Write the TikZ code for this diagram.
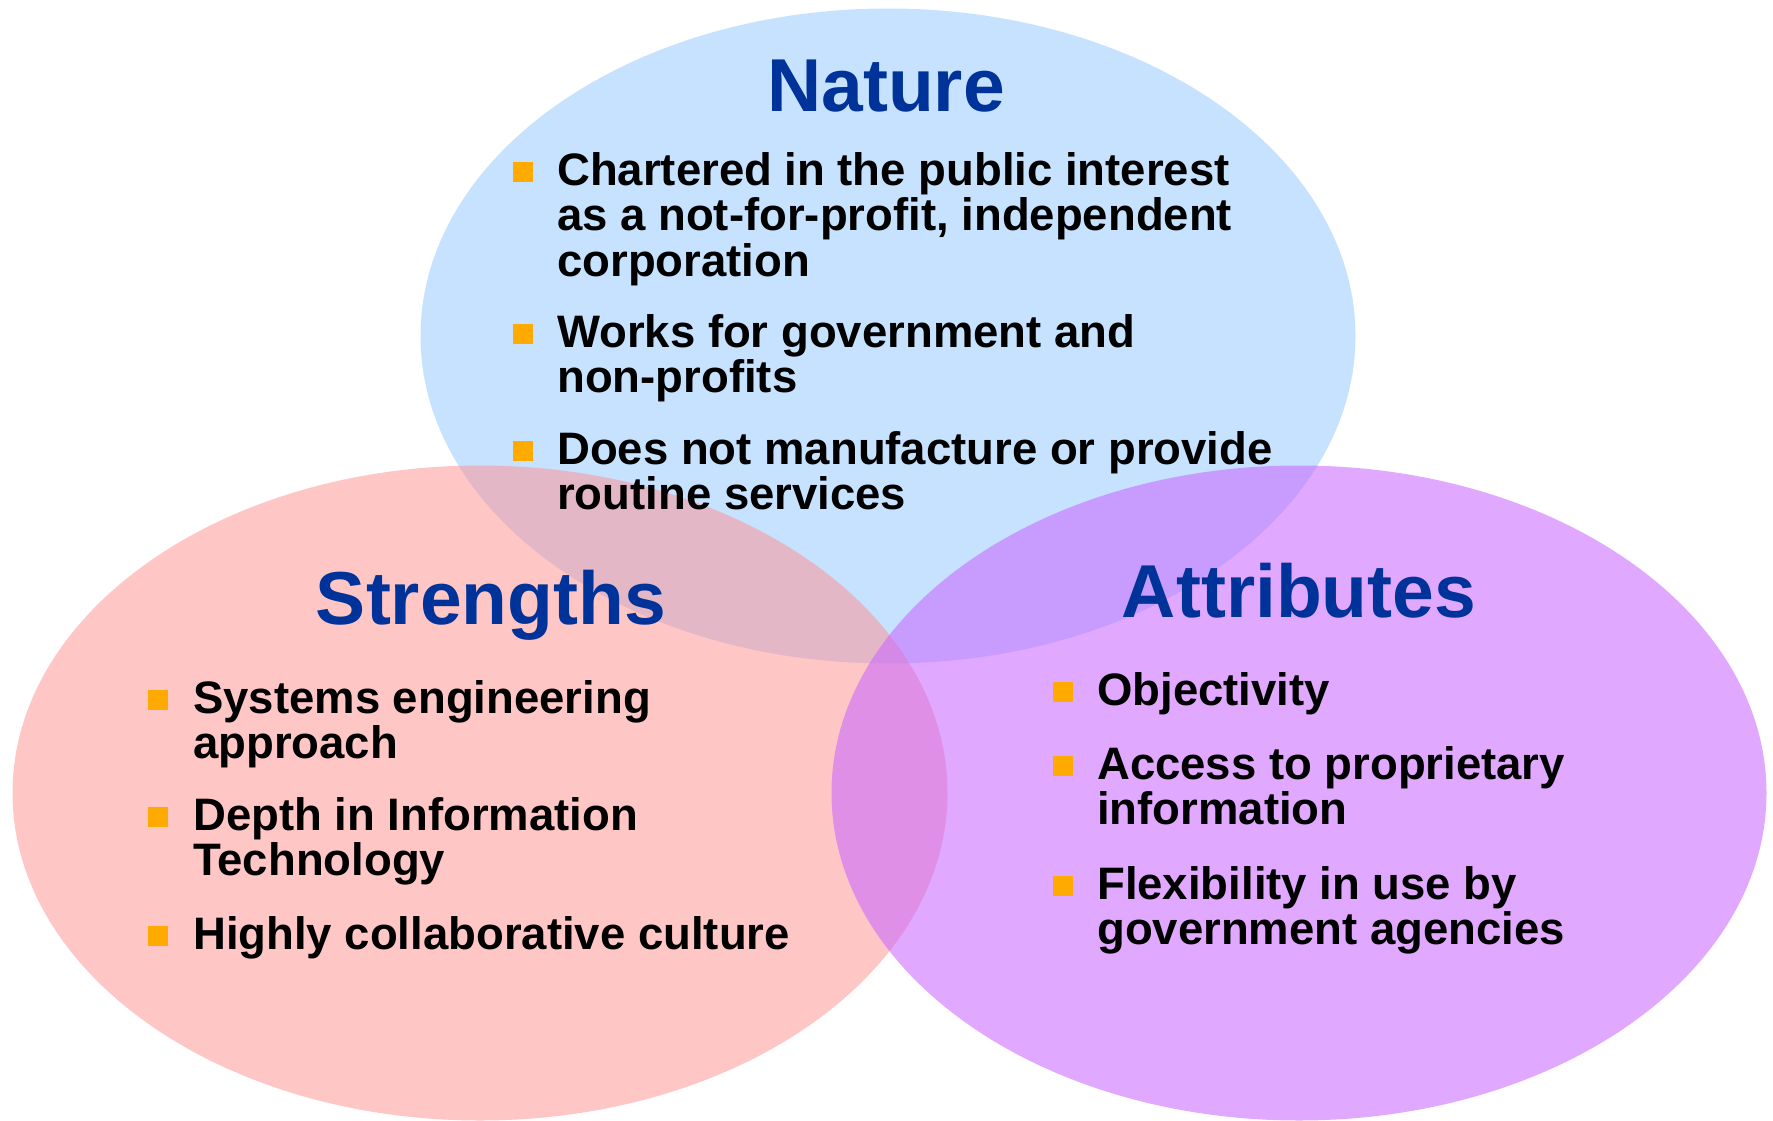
\documentclass[tikz,border=0pt]{standalone}
\usepackage{fontspec}
\setmainfont{Liberation Sans}
\usepackage{tikz}
\usetikzlibrary{shapes.geometric,positioning}
\definecolor{natureblue}{RGB}{198,226,255}
\definecolor{strengthred}{RGB}{255,145,145}
\definecolor{attribviolet}{RGB}{202,105,255}
\definecolor{titleblue}{RGB}{0,51,153}
\definecolor{bulletorange}{RGB}{255,170,0}

\begin{document}
\begin{tikzpicture}[x=1pt, y=-1pt,
  blob/.style={ellipse, inner sep=0pt, minimum width=935pt, minimum height=655pt},
  heading/.style={font=\fontsize{75}{82}\selectfont\bfseries, text=titleblue,
    anchor=base, inner sep=0pt},
  item/.style={font=\fontsize{45.5}{45.7}\selectfont\bfseries, align=left,
    anchor=north west, inner sep=0pt},
  sq/.style={fill=bulletorange, minimum size=20pt, inner sep=0pt}]
\useasboundingbox (0,0) rectangle (1773,1121);
% The three overlapping ellipses
\node[blob, fill=natureblue]                      (nature)     at (888, 336)  {};
\node[blob, fill=strengthred, fill opacity=0.52]  (strengths)  at (480, 793)  {};
\node[blob, fill=attribviolet, fill opacity=0.58] (attributes) at (1299, 793) {};
% Headings
\node[heading] (tnat) at (886, 112) {Nature};
\node[heading] (tstr) at (491, 624) {Strengths};
\node[heading] (tatt) at (1299, 617) {Attributes};
% Nature items (top of first line)
\node[sq] (bn1) at (523, 172) {};
\node[item] (n1) at (557, 152) {Chartered in the public interest\\as a not-for-profit, independent\\corporation};
\node[sq] (bn2) at (523, 334) {};
\node[item] (n2) at (557, 314) {Works for government and\\non-profits};
\node[sq] (bn3) at (523, 451) {};
\node[item] (n3) at (557, 431) {Does not manufacture or provide\\routine services};
% Strengths items
\node[sq] (bs1) at (158, 700) {};
\node[item] (s1) at (193, 680) {Systems engineering\\approach};
\node[sq] (bs2) at (158, 817) {};
\node[item] (s2) at (193, 797) {Depth in Information\\Technology};
\node[sq] (bs3) at (158, 936) {};
\node[item] (s3) at (193, 916) {Highly collaborative culture};
% Attributes items
\node[sq] (ba1) at (1063, 692) {};
\node[item] (a1) at (1097, 672) {Objectivity};
\node[sq] (ba2) at (1063, 766) {};
\node[item] (a2) at (1097, 746) {Access to proprietary\\information};
\node[sq] (ba3) at (1063, 886) {};
\node[item] (a3) at (1097, 866) {Flexibility in use by\\government agencies};
\end{tikzpicture}
\end{document}
